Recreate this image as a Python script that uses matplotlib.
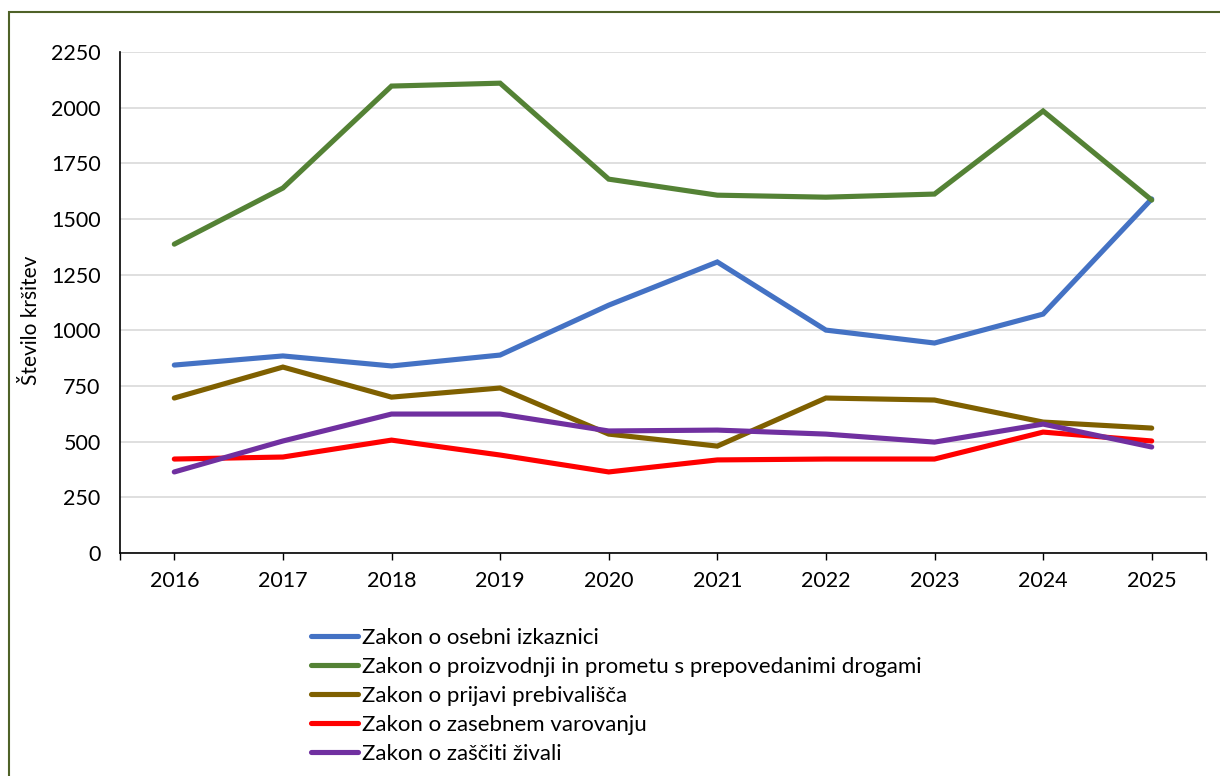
import numpy as np
import matplotlib.pyplot as plt
from matplotlib.patches import Rectangle

plt.rcParams['font.family'] = ['Lato', 'DejaVu Sans']

years = [2016, 2017, 2018, 2019, 2020, 2021, 2022, 2023, 2024, 2025]

osebna = [844, 885, 840, 889, 1113, 1307, 1001, 943, 1073, 1590]
droge = [1387, 1639, 2097, 2110, 1679, 1607, 1598, 1612, 1985, 1585]
prebivalisce = [696, 835, 700, 741, 534, 480, 696, 687, 588, 561]
varovanje = [422, 431, 507, 440, 364, 418, 422, 422, 543, 503]
zivali = [364, 503, 624, 624, 548, 552, 534, 498, 579, 476]

labels = ["Zakon o osebni izkaznici",
          "Zakon o proizvodnji in prometu s prepovedanimi drogami",
          "Zakon o prijavi prebivališča",
          "Zakon o zasebnem varovanju",
          "Zakon o zaščiti živali"]
colors = ["#4472C4", "#548235", "#7F6000", "#FF0000", "#7030A0"]
series = [osebna, droge, prebivalisce, varovanje, zivali]

W, H = 1220, 776
fig = plt.figure(figsize=(W / 100, H / 100), dpi=100)
ax = fig.add_axes([120 / W, 1 - 553 / H, (1206 - 120) / W, (553 - 52) / H])

x = np.arange(len(years))
for s, c, lab in zip(series, colors, labels):
    ax.plot(x, s, color=c, linewidth=3.7, label=lab, solid_capstyle='round', solid_joinstyle='miter')

ax.set_xlim(-0.5, len(years) - 0.5)
ax.set_ylim(0, 2250)
ax.set_yticks(np.arange(0, 2251, 250))
ax.set_xticks(x)
ax.set_xticklabels([str(y) for y in years])
ax.set_xticks([-0.5, len(years) - 0.5], minor=True)
ax.tick_params(axis='x', which='both', direction='out', length=5, width=1, labelsize=15.5, pad=8)
ax.tick_params(axis='y', length=0, labelsize=15.5, pad=14)
ax.grid(axis='y', color='#d9d9d9', linewidth=1.2)
ax.set_axisbelow(True)
for side in ['top', 'right']:
    ax.spines[side].set_visible(False)
ax.spines['left'].set_linewidth(1.2)
ax.spines['bottom'].set_linewidth(1.2)
ax.set_ylabel("Število kršitev", fontsize=15)
ax.yaxis.set_label_coords((41 - 120) / (1206 - 120), (553 - 320) / (553 - 52))

fig.legend(loc='upper left', bbox_to_anchor=(300 / W, 1 - 617 / H), frameon=False,
           fontsize=16, handlelength=2.1, handletextpad=0.2, labelspacing=0.4,
           borderpad=0)

fig.patches.append(Rectangle((9 / W, -0.05), 2, 1.05 - 12 / H, transform=fig.transFigure,
                             fill=False, edgecolor='#4F6228', linewidth=1.5))

fig.savefig("out.png", dpi=100)
